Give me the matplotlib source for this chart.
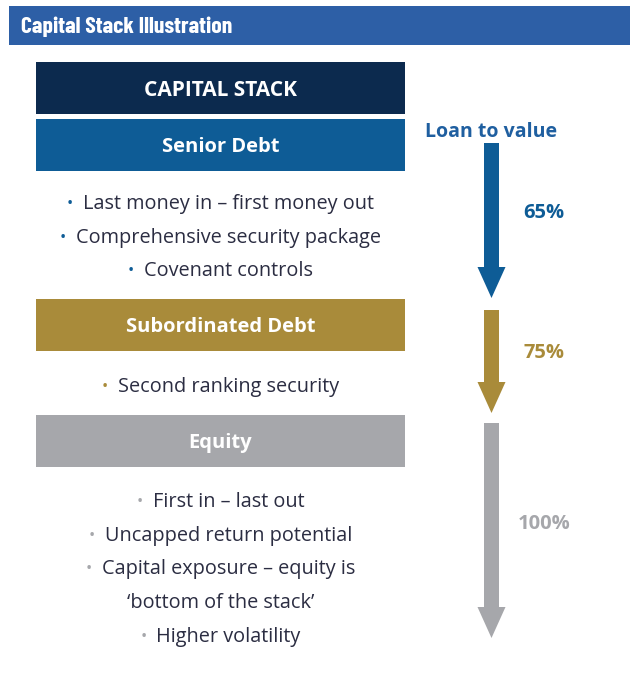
import matplotlib
matplotlib.use("Agg")
import matplotlib.pyplot as plt
from matplotlib.patches import Rectangle, Polygon

# ---- content ----
title = "Capital Stack Illustration"
stack_header = "CAPITAL STACK"
tiers = ["Senior Debt", "Subordinated Debt", "Equity"]
tier_colors = ["#0E5C96", "#A98B3A", "#A6A7AB"]
tier_bullets = [
    ["Last money in \u2013 first money out", "Comprehensive security package", "Covenant controls"],
    ["Second ranking security"],
    ["First in \u2013 last out", "Uncapped return potential",
     "Capital exposure \u2013 equity is\n\u2018bottom of the stack\u2019", "Higher volatility"],
]
ltv_label = "Loan to value"
ltv_values = [65, 75, 100]

# ---- layout (pixel coordinates) ----
W, H = 630, 675
fig = plt.figure(figsize=(W / 100, H / 100), dpi=100)
ax = fig.add_axes([0, 0, 1, 1])
ax.set_xlim(0, W)
ax.set_ylim(H, 0)
ax.axis("off")

body_font = ["Open Sans", "DejaVu Sans"]
text_dark = "#2B2D42"

# header band
ax.add_patch(Rectangle((9, 6), W - 9, 38.5, color="#2D5FA6", lw=0))
ax.text(21, 33.3, title, color="white", fontsize=17, fontweight="bold",
        family=["Barlow Condensed", "DejaVu Sans"], va="baseline", ha="left")

box_x0, box_x1 = 36, 405
box_cx = (box_x0 + box_x1) / 2
box_h = 52
cap_half = 7.2

# capital stack header box
ax.add_patch(Rectangle((box_x0, 62), box_x1 - box_x0, box_h, color="#0C2A4E", lw=0))
ax.text(box_cx, 62 + box_h / 2 + 7.5, stack_header, color="white", fontsize=15,
        fontweight="bold", family=body_font, ha="center", va="baseline")

box_tops = [119, 299, 415]
bullet_starts = [201.5, 384.5, 499.5]
line_gap = 33.8

arrow_cx = 491.5
shaft_w = 15
head_w = 28
head_len = 31
arrow_tops = [143, 310, 423]
arrow_tips = [298, 413, 638]
label_ys = [211, 351, 522]

for i, name in enumerate(tiers):
    col = tier_colors[i]
    top = box_tops[i]
    ax.add_patch(Rectangle((box_x0, top), box_x1 - box_x0, box_h, color=col, lw=0))
    ax.text(box_cx, top + box_h / 2 + cap_half, name, color="white", fontsize=14.5,
            fontweight="bold", family=body_font, ha="center", va="baseline")
    y = bullet_starts[i]
    for b in tier_bullets[i]:
        lines = b.split("\n")
        for j, ln in enumerate(lines):
            shift = 8 if j == 0 else 0
            t = ax.text(box_cx + shift, y + cap_half, ln, color=text_dark, fontsize=14.3,
                        family=body_font, ha="center", va="baseline")
            if j == 0:
                ax.annotate("\u2022", xy=(0, 0.5), xycoords=t, xytext=(-7, 0),
                            textcoords="offset points", ha="right", va="center",
                            color=col, fontsize=12, family=body_font)
            y += line_gap

    # arrow
    t0, t1 = arrow_tops[i], arrow_tips[i]
    hb = t1 - head_len
    pts = [(arrow_cx - shaft_w / 2, t0), (arrow_cx + shaft_w / 2, t0),
           (arrow_cx + shaft_w / 2, hb), (arrow_cx + head_w / 2, hb),
           (arrow_cx, t1), (arrow_cx - head_w / 2, hb),
           (arrow_cx - shaft_w / 2, hb)]
    ax.add_patch(Polygon(pts, closed=True, color=col, lw=0))
    ax.text(544, label_ys[i] + cap_half, f"{ltv_values[i]}%", color=col, fontsize=14.5,
            fontweight="bold", family=body_font, ha="center", va="baseline")

ax.text(491, 130 + cap_half, ltv_label, color="#1F5FA0", fontsize=14, fontweight="bold",
        family=body_font, ha="center", va="baseline")

fig.savefig("out.png", dpi=100)
